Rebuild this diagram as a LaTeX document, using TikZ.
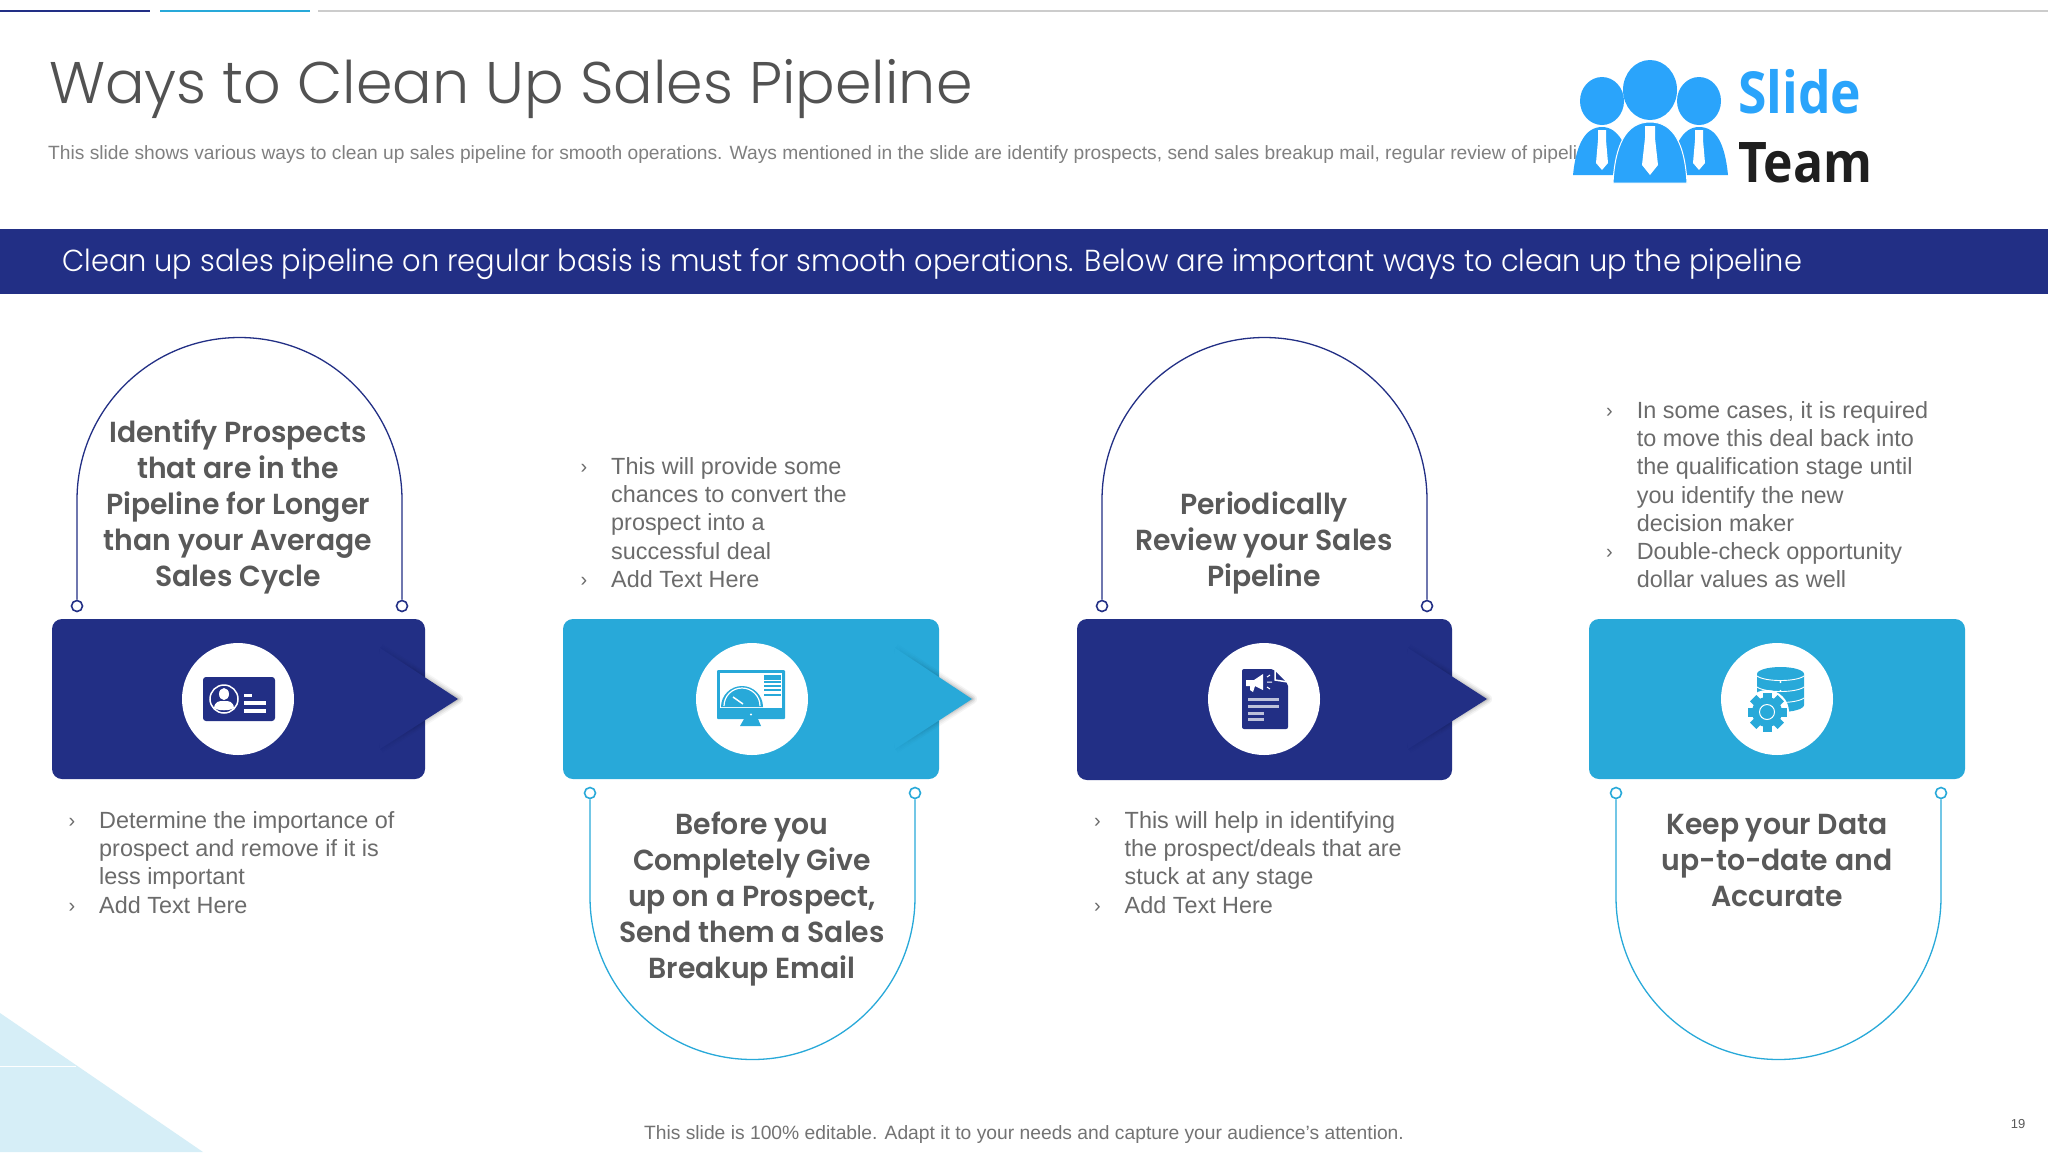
\documentclass[tikz,border=0pt]{standalone}
\usepackage{fontspec}
\usetikzlibrary{fadings}
\setmainfont{Liberation Sans}
\newfontfamily\gothiclight{Poppins Light}
\newfontfamily\bandfont{Poppins Light}[FakeStretch=0.95]
\newfontfamily\gothicbold{Poppins SemiBold}[FakeStretch=0.975]
\newfontfamily\logofont{Open Sans Bold}[FakeStretch=0.89]
\definecolor{navy}{HTML}{222F85}
\definecolor{sky}{HTML}{28A9D9}
\definecolor{logoblue}{HTML}{2AA4FB}
\definecolor{headgray}{HTML}{595959}
\definecolor{bodygray}{HTML}{6B6B6B}
\definecolor{wedge}{HTML}{D6EEF7}
\newcommand{\bul}{\makebox[0pt][r]{\raisebox{1pt}{\fontsize{20}{20}\selectfont ›}\hspace{24pt}}}
\tikzset{
  x=1pt,y=-1pt,
  panel/.style={rounded corners=10pt},
  headtext/.style={font=\gothicbold\fontsize{29}{36}\selectfont,text=headgray,align=center,inner sep=0pt},
  bodytext/.style={font=\fontsize{23.4}{28.3}\selectfont,text=bodygray,align=left,anchor=north west,inner sep=0pt},
  disc/.style={circle,fill=white,minimum size=112pt,inner sep=0pt},
  dotnavy/.style={circle,draw=navy,fill=white,line width=1.6pt,minimum size=11pt,inner sep=0pt},
  dotsky/.style={circle,draw=sky,fill=white,line width=1.6pt,minimum size=11pt,inner sep=0pt},
  bowl/.style={line width=1.3pt},
  lay/.style={inner sep=0pt}
}
% arrow tip of a panel: #1 start x, #2 tip x, #3 colour
\newcommand{\panelarrow}[3]{%
  \foreach \w/\o in {10/0.05,7/0.07,4/0.08,2/0.08}{
    \draw[black,opacity=\o,line width=\w pt,line join=round,path fading=west] (#1,648) -- (#2,699) -- (#1,749);
  }
  \fill[#3] (#1,648) -- (#2,699) -- (#1,749) -- cycle;
}
\begin{document}
\begin{tikzpicture}
\useasboundingbox (0,0) rectangle (2048,1152);
\fill[white] (0,0) rectangle (2048,1152);

% corner wedge
\fill[wedge] (0,1013) -- (203,1152) -- (0,1152) -- cycle;
\draw[white,line width=1pt] (0,1066) -- (76,1066);

% top rules
\draw[navy,line width=2pt] (0,11) -- (150,11);
\draw[sky,line width=2pt] (160,11) -- (310,11);
\draw[black!20,line width=1.5pt] (318,11) -- (2048,11);

% title
\node[lay,anchor=base west,font=\gothiclight\fontsize{58.7}{60}\selectfont,text=black!68] (title) at (49,103) {Ways to Clean Up Sales Pipeline};
\node[lay,anchor=base west,font=\fontsize{19.2}{22}\selectfont,text=black!50] (sub) at (48,159) {This slide shows various ways to clean up sales pipeline for smooth operations. Ways mentioned in the slide are identify prospects, send sales breakup mail, regular review of pipeline};

% band
\fill[navy] (0,229) rectangle (2048,294);
\node[lay,anchor=base west,font=\bandfont\fontsize{30.38}{32}\selectfont,text=white] (band) at (62,271) {Clean up sales pipeline on regular basis is must for smooth operations. Below are important ways to clean up the pipeline};

% logo
\begin{scope}
\fill[logoblue] (1602,101) ellipse[x radius=22pt,y radius=24pt];
\fill[logoblue] (1699,101) ellipse[x radius=22pt,y radius=24pt];
\fill[logoblue] (1573,175) .. controls (1576,145) and (1585,127) .. (1602,127) .. controls (1618,127) and (1628,145) .. (1632,175) -- cycle;
\fill[logoblue] (1670,175) .. controls (1673,145) and (1683,127) .. (1699,127) .. controls (1717,127) and (1725,145) .. (1728,175) -- cycle;
\fill[white] (1598,130) -- (1606,130) -- (1606,140) -- (1608,163) -- (1602,170) -- (1596,163) -- (1598,140) -- cycle;
\fill[white] (1695,130) -- (1703,130) -- (1703,140) -- (1705,163) -- (1699,170) -- (1693,163) -- (1695,140) -- cycle;
\draw[white,line width=1pt,fill=logoblue] (1613,183) .. controls (1615,145) and (1626,122) .. (1650,122) .. controls (1674,122) and (1685,145) .. (1687,183) -- cycle;
\fill[logoblue] (1650,90) ellipse[x radius=27pt,y radius=30pt];
\fill[white] (1645,126) -- (1655,126) -- (1655,138) -- (1658,165) -- (1650,175) -- (1642,165) -- (1645,138) -- cycle;
\end{scope}
\node[lay,anchor=base west,font=\logofont\fontsize{58}{60}\selectfont,text=logoblue] (lslide) at (1738,113) {Slide};
\node[lay,anchor=base west,font=\logofont\fontsize{56}{60}\selectfont,text=black!88] (lteam) at (1738,182) {Team};

% panels
\fill[navy,panel] (52,619) rectangle (425,779);
\panelarrow{380}{458}{navy}
\fill[sky,panel] (563,619) rectangle (939,779);
\panelarrow{895}{972}{sky}
\fill[navy,panel] (1077,619) rectangle (1452,780);
\panelarrow{1408}{1487}{navy}
\fill[sky,panel] (1589,619) rectangle (1965,779);

\node[disc] (c1) at (238,699) {};
\node[disc] (c2) at (752,699) {};
\node[disc] (c3) at (1264,699) {};
\node[disc] (c4) at (1777,699) {};

% icon 1: id card
\fill[navy,rounded corners=3pt] (203,677) rectangle (275,721);
\draw[white,line width=1.5pt] (224,699) circle[radius=14pt];
\fill[white] (224,694) ellipse[x radius=5pt,y radius=6pt];
\fill[white] (214,708) .. controls (215,701) and (219,701) .. (224,701) .. controls (229,701) and (233,701) .. (234,708) .. controls (230,711) and (218,711) .. (214,708) -- cycle;
\fill[white] (244,694) rectangle (252,697);
\fill[white] (244,701) rectangle (266,705);
\fill[white] (244,709) rectangle (266,713);

% icon 2: monitor
\fill[sky,rounded corners=1pt] (717,670) rectangle (785,719);
\fill[white] (720,673) rectangle (782,708);
\fill[sky] (721,707) arc[start angle=180,end angle=0,radius=21pt] -- cycle;
\draw[white,line width=1.2pt] (724,706) arc[start angle=180,end angle=0,radius=18pt];
\draw[white,line width=1.5pt] (733,697) -- (743,704);
\fill[sky] (764,675) rectangle (781,680);
\foreach \yy in {682,686,690,695}{\draw[sky,line width=1.2pt] (764,\yy) -- (781,\yy);}
\fill[white] (751,714.5) circle[radius=1.2pt];
\fill[sky] (744,719) -- (758,719) -- (761,726) -- (740,726) -- cycle;

% icon 3: document
\fill[navy,rounded corners=2pt] (1242,669) -- (1273,669) -- (1288,684) -- (1288,729) -- (1242,729) -- cycle;
\draw[white,line width=1.5pt] (1275,669) -- (1275,680) -- (1288,682);
\fill[white] (1246,680) -- (1254,680) -- (1263,674) -- (1263,690) -- (1255,686) -- (1253,692) -- (1250,690) -- (1250,686) -- (1246,686) -- cycle;
\draw[white,line width=1pt] (1267,677) -- (1270,675) (1267,682) -- (1272,682) (1267,687) -- (1270,689);
\fill[navy!30!white] (1248,698) rectangle (1279,701);
\fill[navy!30!white] (1248,705) rectangle (1279,708);
\fill[navy!30!white] (1248,712) rectangle (1264,714.5);
\fill[navy!30!white] (1248,718) rectangle (1264,721);

% icon 4: database with gear
\fill[sky] (1757,674) -- (1757,705) arc[start angle=180,end angle=360,x radius=23.5pt,y radius=7pt] -- (1804,674) -- cycle;
\fill[sky] (1780.5,674) ellipse[x radius=23.5pt,y radius=7pt];
\foreach \yy in {681,692,703}{
  \draw[white,line width=0.9pt] (1757,\yy-5) .. controls (1765,\yy+1) and (1796,\yy+1) .. (1804,\yy-5);
}
\fill[white] (1780.5,682) circle[radius=1.2pt];
\fill[white] (1780.5,691) circle[radius=1.2pt];
\fill[white] (1767,712) circle[radius=22pt];
\fill[sky] (1767,712) circle[radius=15pt];
\foreach \a in {0,45,...,315}{
  \fill[sky,rotate around={\a:(1767,712)}] (1762.5,692.5) rectangle (1771.5,700);
}
\draw[white,line width=1pt] (1767,712) circle[radius=7.5pt];

% arches
\node[dotnavy] (d1a) at (77,606) {};
\node[dotnavy] (d1b) at (402,606) {};
\draw[navy,bowl] (d1a.north) -- (77,500) arc[start angle=180,end angle=0,radius=162.5pt] -- (d1b.north);
\node[dotsky] (d2a) at (590,793) {};
\node[dotsky] (d2b) at (915,793) {};
\draw[sky,bowl] (d2a.south) -- (590,897) arc[start angle=180,end angle=360,radius=162.5pt] -- (d2b.south);
\node[dotnavy] (d3a) at (1102,606) {};
\node[dotnavy] (d3b) at (1427,606) {};
\draw[navy,bowl] (d3a.north) -- (1102,500) arc[start angle=180,end angle=0,radius=162.5pt] -- (d3b.north);
\node[dotsky] (d4a) at (1616,793) {};
\node[dotsky] (d4b) at (1941,793) {};
\draw[sky,bowl] (d4a.south) -- (1616,897) arc[start angle=180,end angle=360,radius=162.5pt] -- (d4b.south);

% headings
\node[headtext] (h1) at (238,507) {Identify Prospects\\that are in the\\Pipeline for Longer\\than your Average\\Sales Cycle};
\node[headtext] (h2) at (752,899) {Before you\\Completely Give\\up on a Prospect,\\Send them a Sales\\Breakup Email};
\node[headtext] (h3) at (1264,543) {Periodically\\Review your Sales\\Pipeline};
\node[headtext] (h4) at (1777,860) {Keep your Data\\up-to-date and\\Accurate};

% lists
\node[bodytext] (t1) at (99,811) {\bul Determine the importance of\\prospect and remove if it is\\less important\\\bul Add Text Here};
\node[bodytext] (t2) at (611,457) {\bul This will provide some\\chances to convert the\\prospect into a\\successful deal\\\bul Add Text Here};
\node[bodytext] (t3) at (1124.5,811) {\bul This will help in identifying\\the prospect/deals that are\\stuck at any stage\\\bul Add Text Here};
\node[bodytext] (t4) at (1636.6,401) {\bul In some cases, it is required\\to move this deal back into\\the qualification stage until\\you identify the new\\decision maker\\\bul Double-check opportunity\\dollar values as well};

% footer
\node[lay,font=\fontsize{19.27}{22}\selectfont,text=black!55] (foot) at (1024,1134) {This slide is 100\% editable. Adapt it to your needs and capture your audience's attention.};
\node[lay,font=\fontsize{13}{14}\selectfont,text=black!65] (page) at (2018,1124) {19};
\end{tikzpicture}
\end{document}
